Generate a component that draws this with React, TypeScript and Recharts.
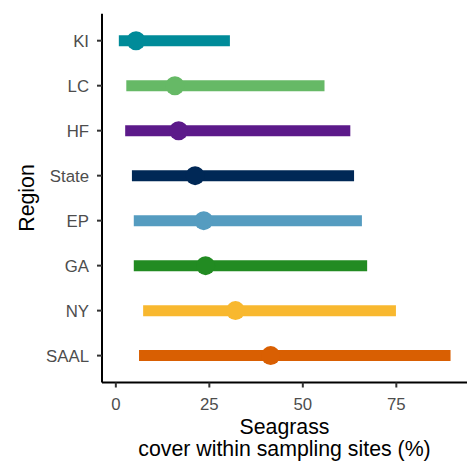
import React from "react";
import { ComposedChart, Bar, Line, XAxis, YAxis, Cell } from "recharts";

const regions = ["KI", "LC", "HF", "State", "EP", "GA", "NY", "SAAL"];
const minCover = [0.8, 2.8, 2.5, 4.3, 4.8, 4.8, 7.3, 6.2];
const maxCover = [30.5, 55.8, 62.7, 63.7, 65.8, 67.2, 74.9, 89.5];
const meanCover = [5.4, 15.8, 16.8, 21.2, 23.5, 24.0, 32.0, 41.4];
const regionColors = ["#008B99", "#66B966", "#5C1A8A", "#002856", "#559CC0", "#228B22", "#F8B82F", "#D95F02"];
const xTicks = [0, 25, 50, 75];

const data = regions.map((r, i) => ({
  region: r,
  range: [minCover[i], maxCover[i]],
  mean: meanCover[i],
  color: regionColors[i],
}));

const MeanDot = (props: any) => {
  const { cx, cy, payload, index } = props;
  if (cx == null || cy == null) return <g key={index} />;
  return <circle key={index} cx={cx} cy={cy} r={9.5} fill={payload.color} />;
};

export default function App() {
  const font = "'Liberation Sans', Arial, sans-serif";
  return (
    <div style={{ position: "absolute", left: 0, top: 0, width: 474, height: 461, background: "#fff" }}>
      <ComposedChart
        width={474}
        height={461}
        data={data}
        layout="vertical"
        margin={{ top: 13.8, right: 7, bottom: 0, left: 0 }}
      >
        <XAxis
          type="number"
          domain={[-3.7, 93.9]}
          ticks={xTicks}
          allowDataOverflow
          height={78.5}
          axisLine={{ stroke: "#000", strokeWidth: 2 }}
          tickLine={{ stroke: "#333", strokeWidth: 2 }}
          tickSize={5}
          tickMargin={10.5}
          tick={{ fill: "#4D4D4D", fontSize: 16.8, fontFamily: font }}
        />
        <YAxis
          type="category"
          dataKey="region"
          width={102}
          padding={{ top: 4.4, bottom: 4.4 }}
          axisLine={{ stroke: "#000", strokeWidth: 2 }}
          tickLine={{ stroke: "#333", strokeWidth: 2 }}
          tickSize={5}
          tickMargin={8}
          tick={{ fill: "#4D4D4D", fontSize: 16.8, fontFamily: font }}
        />
        <Bar dataKey="range" barSize={11} isAnimationActive={false}>
          {data.map((d, i) => (
            <Cell key={i} fill={d.color} />
          ))}
        </Bar>
        <Line
          dataKey="mean"
          stroke="none"
          dot={MeanDot}
          activeDot={false}
          legendType="none"
          isAnimationActive={false}
        />
        <text
          x={26.7}
          y={198}
          transform="rotate(-90 26.7 198)"
          textAnchor="middle"
          dominantBaseline="central"
          fontSize={21.3}
          fontFamily={font}
          fill="#000"
        >
          Region
        </text>
        <text x={284.5} y={434} textAnchor="middle" fontSize={21.3} fontFamily={font} fill="#000">
          Seagrass
        </text>
        <text x={284.5} y={456} textAnchor="middle" fontSize={21.3} fontFamily={font} fill="#000">
          cover within sampling sites (%)
        </text>
      </ComposedChart>
    </div>
  );
}
